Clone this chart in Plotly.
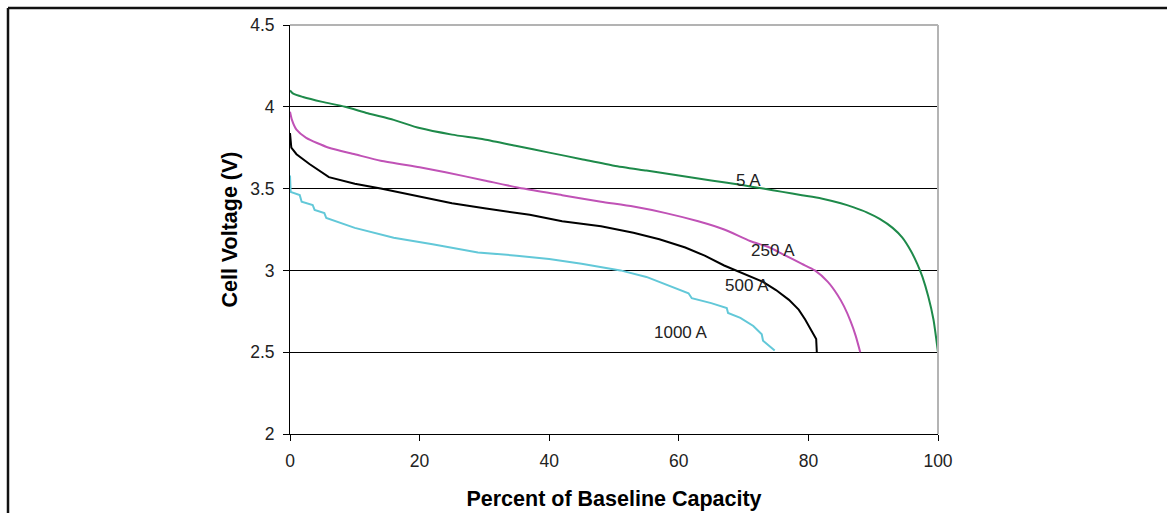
import plotly.graph_objects as go

# 5 A
x_5a = [0, 0.5, 2, 5, 8.5, 12, 16, 20, 25, 30, 35, 40, 45, 50, 55, 60, 65, 70, 73, 76, 79, 82, 85, 87, 89, 91, 93, 94.5, 95.8, 96.8, 97.6, 98.5, 99.3, 100]
v_5a = [4.10, 4.08, 4.06, 4.03, 4.00, 3.96, 3.92, 3.87, 3.83, 3.80, 3.76, 3.72, 3.68, 3.64, 3.61, 3.58, 3.55, 3.52, 3.50, 3.48, 3.46, 3.44, 3.41, 3.385, 3.355, 3.315, 3.26, 3.20, 3.12, 3.04, 2.96, 2.84, 2.70, 2.50]

# 250 A
x_250a = [0, 0.3, 1, 2.5, 6, 10, 14, 20, 24, 30, 36, 42, 48, 53, 58, 63, 67, 71, 74, 76, 79, 81, 83, 84.5, 85.5, 86.5, 87.3, 88]
v_250a = [3.97, 3.92, 3.86, 3.81, 3.75, 3.71, 3.67, 3.63, 3.60, 3.55, 3.50, 3.46, 3.42, 3.39, 3.35, 3.30, 3.25, 3.18, 3.14, 3.10, 3.04, 3.00, 2.93, 2.85, 2.78, 2.69, 2.60, 2.50]

# 500 A
x_500a = [0, 0.2, 1, 3, 6, 10, 14, 20, 25, 30, 37, 42, 48, 53, 57, 61, 64, 67, 70, 73, 75, 77, 78.5, 79.5, 80.5, 81.2, 81.3]
v_500a = [3.84, 3.75, 3.71, 3.65, 3.57, 3.53, 3.50, 3.45, 3.41, 3.38, 3.34, 3.30, 3.27, 3.23, 3.19, 3.14, 3.09, 3.03, 2.98, 2.93, 2.88, 2.82, 2.76, 2.70, 2.63, 2.58, 2.50]

# 1000 A
x_1000a = [0, 0.1, 1.5, 1.8, 3.5, 3.8, 5.3, 5.6, 10, 16, 22, 29, 35, 40, 45, 48, 51, 55, 59, 61.5, 62, 65, 67.4, 67.6, 69.5, 71.5, 72.8, 73, 74.8]
v_1000a = [3.58, 3.48, 3.46, 3.42, 3.40, 3.37, 3.35, 3.32, 3.26, 3.20, 3.16, 3.11, 3.09, 3.07, 3.04, 3.02, 3.00, 2.96, 2.90, 2.86, 2.83, 2.80, 2.77, 2.74, 2.71, 2.66, 2.61, 2.57, 2.51]

series_names = ["5 A", "250 A", "500 A", "1000 A"]
series_colors = ["#1e8a4a", "#c052b6", "#000000", "#62c8d8"]
series_shapes = ["spline", "spline", "linear", "linear"]
label_x = [70.7, 74.5, 70.5, 60.3]
label_y = [3.55, 3.12, 2.905, 2.62]

x_ticks = [0, 20, 40, 60, 80, 100]
y_ticks = [2, 2.5, 3, 3.5, 4, 4.5]
y_tick_text = ["2", "2.5", "3", "3.5", "4", "4.5"]

FONT = "Liberation Sans, Arial"

fig = go.Figure()
for xs, vs, name, col, shp in zip([x_5a, x_250a, x_500a, x_1000a],
                                  [v_5a, v_250a, v_500a, v_1000a],
                                  series_names, series_colors, series_shapes):
    fig.add_trace(go.Scatter(x=xs, y=vs, mode="lines", name=name,
                             line=dict(color=col, width=2, shape=shp, smoothing=0.6),
                             showlegend=False, hoverinfo="skip"))

for name, lx, ly in zip(series_names, label_x, label_y):
    fig.add_annotation(x=lx, y=ly, text=name, showarrow=False,
                       font=dict(family=FONT, size=17, color="#222222"))

H = 518
ML, MT, PW, PH = 290, 25, 648, 412
fig.update_layout(
    width=1167, height=H,
    margin=dict(l=ML, r=1167 - ML - PW, t=MT, b=H - MT - PH),
    paper_bgcolor="white", plot_bgcolor="white",
    font=dict(family=FONT, size=17, color="#222222"),
    xaxis=dict(range=[0, 100], tickvals=x_ticks, ticks="outside", ticklen=6,
               tickcolor="black", showline=True, linecolor="black", linewidth=1,
               showgrid=False, zeroline=False, ticklabelstandoff=5,
               tickfont=dict(size=17.5, color="#222222"),
               title=dict(text="<b>Percent of Baseline Capacity</b>",
                          font=dict(size=21.5, color="#000000"), standoff=20)),
    yaxis=dict(range=[2, 4.5], tickvals=y_ticks, ticktext=y_tick_text,
               ticks="outside", ticklen=6, tickcolor="black",
               showline=True, linecolor="black", linewidth=1,
               showgrid=True, gridcolor="black", gridwidth=1, zeroline=False,
               ticklabelstandoff=5,
               tickfont=dict(size=17.5, color="#222222"),
               title=dict(text="<b>Cell Voltage (V)</b>",
                          font=dict(size=21.5, color="#000000"), standoff=6)),
)

# gray top and right plot border
fig.add_shape(type="line", xref="paper", yref="paper", x0=0, x1=1, y0=1, y1=1,
              line=dict(color="#9a9a9a", width=1.5), layer="above")
fig.add_shape(type="line", xref="paper", yref="paper", x0=1, x1=1, y0=0, y1=1,
              line=dict(color="#b4b4b4", width=2), layer="above")

# outer frame (partially visible, cropped)
fx0 = (8 - ML) / PW
fy1 = (MT + PH - 8) / PH
fig.add_shape(type="line", xref="paper", yref="paper", x0=fx0, x1=2, y0=fy1, y1=fy1,
              line=dict(color="#111111", width=2.5), layer="above")
fig.add_shape(type="line", xref="paper", yref="paper", x0=fx0, x1=fx0, y0=-1, y1=fy1,
              line=dict(color="#111111", width=2.5), layer="above")

post = (
    "document.documentElement.style.margin='0';"
    "document.body.style.margin='0';"
    "document.documentElement.style.overflow='hidden';"
    "document.body.style.overflow='hidden';"
)
fig.write_html("out.html", config={"displayModeBar": False}, post_script=post)
